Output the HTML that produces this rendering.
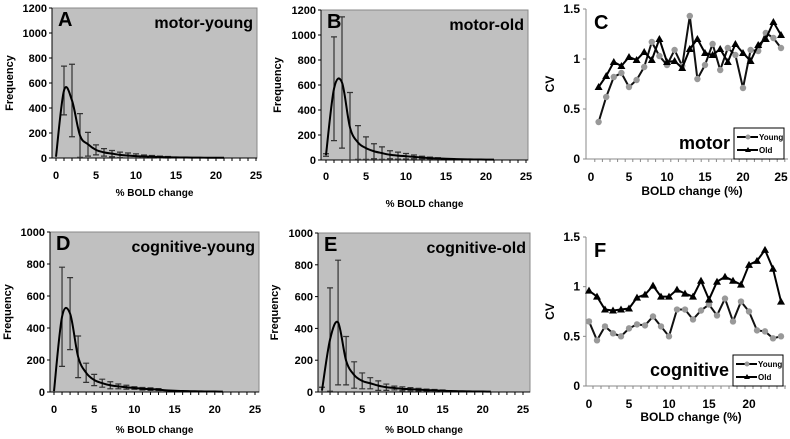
<!DOCTYPE html>
<html><head><meta charset="utf-8"><style>
body{margin:0;background:#fff;width:790px;height:439px;overflow:hidden}
svg{display:block;font-family:"Liberation Sans",Arial,sans-serif}
</style></head><body>
<svg id="fig" width="790" height="439" viewBox="0 0 790 439"></svg>
<script>
// ---- data ----
const histX = [0,1,2,3,4,5,6,7,8,9,10,11,12,13,14,15,16,17,18,19,20,21];
const meanA = [10,540,460,180,110,65,45,35,25,20,15,12,10,8,6,5,4,3,3,2,2,2];
const sdA   = [0,195,290,175,95,40,30,25,22,20,18,12,10,7,6,0,0,0,0,0,0,0];
const meanB = [40,570,620,260,140,95,70,55,42,35,30,25,20,15,12,10,8,6,5,4,3,3];
const sdB   = [10,415,525,280,135,90,60,50,32,28,22,15,10,8,6,0,0,0,0,0,0,0];
const meanD = [5,470,490,220,120,75,55,42,35,30,25,20,18,15,10,8,6,5,4,3,3,2];
const sdD   = [0,310,225,130,60,35,25,22,15,12,8,8,8,6,0,0,0,0,0,0,0,0];
const meanE = [10,330,437,197,107,70,55,40,30,25,20,18,15,12,10,8,6,5,4,3,3,2];
const sdE   = [20,325,392,152,83,50,35,30,20,12,12,10,8,6,6,5,0,0,0,0,0,0];
const cvXC = [1,2,3,4,5,6,7,8,9,10,11,12,13,14,15,16,17,18,19,20,21,22,23,24,25];
const cvYoungC = [0.37,0.62,0.82,0.86,0.72,0.79,0.92,1.17,1.03,0.94,1.09,0.93,1.43,0.80,0.94,1.15,0.89,1.11,1.04,0.71,1.09,1.08,1.26,1.21,1.11];
const cvOldC   = [0.72,0.83,0.97,0.93,1.02,0.99,1.07,0.99,1.20,0.97,0.98,0.91,1.10,1.20,1.06,1.04,1.10,0.97,1.15,1.06,0.98,1.14,1.20,1.37,1.24];
const cvXF = [0,1,2,3,4,5,6,7,8,9,10,11,12,13,14,15,16,17,18,19,20,21,22,23,24];
const cvYoungF = [0.65,0.46,0.60,0.53,0.50,0.58,0.62,0.61,0.70,0.60,0.50,0.77,0.77,0.67,0.76,0.82,0.71,0.88,0.65,0.85,0.75,0.56,0.55,0.48,0.50];
const cvOldF   = [0.96,0.90,0.77,0.76,0.77,0.78,0.89,0.92,1.01,0.90,0.90,0.97,0.93,0.90,1.06,0.87,1.05,1.10,1.06,1.02,1.22,1.26,1.37,1.18,0.85];
const xTicks = [0,5,10,15,20,25];

const svg = document.getElementById('fig');
const NS = 'http://www.w3.org/2000/svg';
function mk(tag, attrs, parent){const e=document.createElementNS(NS,tag);for(const k in attrs)e.setAttribute(k,attrs[k]);(parent||svg).appendChild(e);return e;}
function txt(x,y,s,attrs,parent){const t=mk('text',Object.assign({x:x,y:y},attrs),parent);t.textContent=s;return t;}
function smooth(pts){let d='M'+pts[0][0]+','+pts[0][1];for(let i=0;i<pts.length-1;i++){const p0=pts[Math.max(0,i-1)],p1=pts[i],p2=pts[i+1],p3=pts[Math.min(pts.length-1,i+2)];const c1=[p1[0]+(p2[0]-p0[0])/6,p1[1]+(p2[1]-p0[1])/6],c2=[p2[0]-(p3[0]-p1[0])/6,p2[1]-(p3[1]-p1[1])/6];d+=' C'+c1+' '+c2+' '+p2;}return d;}

function hist(o){
  const g=mk('g',{});
  
  
  const xs=v=>o.x0+(o.x25-o.x0)*v/25, ys=v=>o.bot-(o.bot-o.top)*v/o.ymax;
  const bg=mk('rect',{x:o.left,y:o.top,width:o.right-o.left,height:o.bot-o.top,fill:'#c0c0c0',stroke:'#888','stroke-width':1},g);
  
  mk('line',{x1:o.left,y1:o.top,x2:o.left,y2:o.bot,stroke:'#000'},g);
  mk('line',{x1:o.left,y1:o.bot,x2:o.right,y2:o.bot,stroke:'#000'},g);
  for(let v=0;v<=o.ymax;v+=o.ystep){const y=ys(v);mk('line',{x1:o.left-3,y1:y,x2:o.left,y2:y,stroke:'#000'},g);
    const t=txt(o.left-5,y+4,String(v),{'font-size':11,'font-weight':'bold','text-anchor':'end'},g);}
  for(let v=0;v<=25;v++){const x=xs(v);mk('line',{x1:x,y1:o.bot,x2:x,y2:o.bot+3,stroke:'#000'},g);}
  xTicks.forEach(v=>{const t=txt(xs(v),o.lblY,String(v),{'font-size':11,'font-weight':'bold','text-anchor':'middle'},g);});
  const xt=txt((o.left+o.right)/2,o.titleY,'% BOLD change',{'font-size':10,'font-weight':'bold','text-anchor':'middle'},g);
  
  const yt=txt(0,0,'Frequency',{'font-size':11,'font-weight':'bold','text-anchor':'middle',transform:`translate(${o.ylabX},${(o.top+o.bot)/2}) rotate(-90)`},g);
  
  histX.forEach((xv,i)=>{const sd=o.sd[i];if(!sd)return;const x=xs(xv),y1=ys(Math.min(o.ymax,o.mean[i]+sd)),y2=ys(Math.max(0,o.mean[i]-sd));
    const eb=mk('path',{d:`M${x-3},${y1}H${x+3}M${x},${y1}V${y2}M${x-3},${y2}H${x+3}`,stroke:'#333','stroke-width':1.2,fill:'none'},g);
    });
  const c=mk('path',{d:smooth(histX.map((xv,i)=>[xs(xv),ys(o.mean[i])])),fill:'none',stroke:'#000','stroke-width':2},g);
  
  const L=txt(o.left+6,o.top+18,o.letter,{'font-size':20,'font-weight':'bold'},g);
  const T=txt(o.right-4,o.top+20,o.title,{'font-size':16,'font-weight':'bold','text-anchor':'end'},g);
}
hist({name:'panel-a',letter:'A',title:'motor-young',left:52,right:257,top:8,bot:158,x0:56,x25:256,ymax:1200,ystep:200,mean:meanA,sd:sdA,lblY:179,titleY:196,ylabX:13});
hist({name:'panel-b',letter:'B',title:'motor-old',left:321,right:528,top:10,bot:160,x0:326,x25:526,ymax:1200,ystep:200,mean:meanB,sd:sdB,lblY:180,titleY:207,ylabX:281});
hist({name:'panel-d',letter:'D',title:'cognitive-young',left:50,right:259,top:232,bot:392,x0:54,x25:255,ymax:1000,ystep:200,mean:meanD,sd:sdD,lblY:413,titleY:433,ylabX:11});
hist({name:'panel-e',letter:'E',title:'cognitive-old',left:318,right:530,top:233,bot:392,x0:322,x25:523,ymax:1000,ystep:200,mean:meanE,sd:sdE,lblY:413,titleY:433,ylabX:278});

function cvPanel(o){
  const g=mk('g',{});
  
  
  const xs=v=>o.x0+o.dx*v, ys=v=>o.bot-(o.bot-o.top)*v/1.5;
  mk('line',{x1:o.left,y1:o.top,x2:o.left,y2:o.bot,stroke:'#888'},g);
  mk('line',{x1:o.left,y1:o.bot,x2:o.right,y2:o.bot,stroke:'#888'},g);
  [0,0.5,1,1.5].forEach(v=>{const y=ys(v);mk('line',{x1:o.left-3,y1:y,x2:o.left,y2:y,stroke:'#888'},g);
    const t=txt(o.left-6,y+4,String(v),{'font-size':12,'font-weight':'bold','text-anchor':'end'},g);});
  for(let v=0;v<=o.xmaxTick;v++){const x=xs(v+0.5);if(x>o.right)break;mk('line',{x1:x,y1:o.bot,x2:x,y2:o.bot+3,stroke:'#888'},g);}
  o.labels.forEach(v=>{const t=txt(xs(v),o.lblY,String(v),{'font-size':12,'font-weight':'bold','text-anchor':'middle'},g);});
  const xt=txt((o.left+o.right)/2+5,o.titleY,'BOLD change (%)',{'font-size':12,'font-weight':'bold','text-anchor':'middle'},g);
  
  const yt=txt(0,0,'CV',{'font-size':12,'font-weight':'bold','text-anchor':'middle',transform:`translate(${o.left-32},${(o.top+o.bot)/2}) rotate(-90)`},g);
  
  const py=o.young.map((v,i)=>[xs(o.xv[i]),ys(v)]), po=o.old.map((v,i)=>[xs(o.xv[i]),ys(v)]);
  const ly=mk('polyline',{points:py.join(' '),fill:'none',stroke:'#111','stroke-width':2},g);
  py.forEach(p=>{const c=mk('circle',{cx:p[0],cy:p[1],r:3.2,fill:'#999'},g);});
  const lo=mk('polyline',{points:po.join(' '),fill:'none',stroke:'#000','stroke-width':2},g);
  po.forEach(p=>{const t=mk('path',{d:`M${p[0]},${p[1]-4}L${p[0]+4},${p[1]+3}L${p[0]-4},${p[1]+3}Z`,fill:'#000'},g);});
  const L=txt(o.left+8,o.top+20,o.letter,{'font-size':20,'font-weight':'bold'},g);
  const T=txt(o.lgX-4,o.lgY+21,o.title,{'font-size':18,'font-weight':'bold','text-anchor':'end'},g);
  const lg=mk('g',{},g);
  mk('rect',{x:o.lgX,y:o.lgY,width:50,height:31,fill:'#fff',stroke:'#000'},lg);
  mk('line',{x1:o.lgX+3,y1:o.lgY+9,x2:o.lgX+24,y2:o.lgY+9,stroke:'#000','stroke-width':2},lg);
  mk('circle',{cx:o.lgX+14,cy:o.lgY+9,r:2.5,fill:'#999'},lg);
  txt(o.lgX+25,o.lgY+12,'Young',{'font-size':8,'font-weight':'bold'},lg);
  mk('line',{x1:o.lgX+3,y1:o.lgY+22,x2:o.lgX+24,y2:o.lgY+22,stroke:'#000','stroke-width':2},lg);
  mk('path',{d:`M${o.lgX+14},${o.lgY+19}L${o.lgX+17},${o.lgY+24}L${o.lgX+11},${o.lgY+24}Z`},lg);
  txt(o.lgX+25,o.lgY+25,'Old',{'font-size':8,'font-weight':'bold'},lg);
}
cvPanel({name:'panel-c',letter:'C',title:'motor',left:586,right:788,top:9,bot:159,x0:591,dx:7.6,xv:cvXC,young:cvYoungC,old:cvOldC,labels:xTicks,xmaxTick:26,lblY:181,titleY:195,lgX:734,lgY:128});
cvPanel({name:'panel-f',letter:'F',title:'cognitive',left:586,right:786,top:237,bot:386,x0:589,dx:8.0,xv:cvXF,young:cvYoungF,old:cvOldF,labels:[0,5,10,15,20],xmaxTick:25,lblY:408,titleY:421,lgX:733,lgY:355});
</script>
</body></html>
